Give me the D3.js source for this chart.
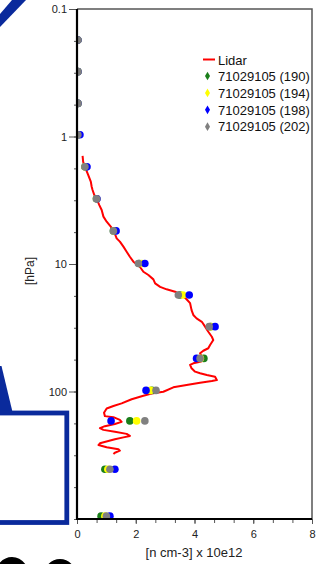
<!DOCTYPE html>
<html><head><meta charset="utf-8">
<script src="https://cdn.jsdelivr.net/npm/d3@7"></script>
<style>html,body{margin:0;padding:0;background:#fff;}svg{display:block;font-family:"Liberation Sans",Arial,sans-serif;}</style>
</head><body>
<svg id="c" width="327" height="564"></svg>
<script>
// ---- data ----
const levels = [0.175, 0.31, 0.55, 0.97, 1.73, 3.08, 5.5, 9.9, 17.5, 31, 55, 98, 170, 407, 950];
const s190 = [0.03,0.03,0.03,0.03,0.27,0.66,1.24,2.12,3.5,4.55,4.32,2.55,1.8,0.95,0.82];
const s194 = [0.03,0.03,0.03,0.03,0.28,0.67,1.26,2.2,3.6,4.55,4.2,2.5,2.03,1.05,0.95];
const s198 = [0.03,0.03,0.03,0.1,0.34,0.68,1.33,2.31,3.82,4.7,4.07,2.35,1.16,1.29,1.12];
const s202 = [0.03,0.03,0.03,0.03,0.27,0.67,1.24,2.09,3.45,4.5,4.19,2.69,2.31,1.12,1.0];
const seriesNames = ["71029105 (190)","71029105 (194)","71029105 (198)","71029105 (202)"];
const seriesColors = ["#1a7f1a","#ffff00","#0000ff","#808080"];
const lidarP = [1.42,1.58,1.73,2.00,2.26,2.48,2.63,2.88,3.09,3.45,3.77,4.25,4.66,5.09,5.58,6.29,6.68,7.31,8.01,8.77,9.59,10.5,11.5,12.2,13.2,14.2,15.1,15.8,16.5,17.5,18.9,20.3,23.0,25.1,26.7,28.4,31.0,34.0,37.2,39.5,43.2,45.8,47.9,50.2,53.3,56.6,58.4,60.1,61.9,65.8,69.9,72.0,74.2,76.6,81.3,82.8,85.3,88.9,92.7,100.4,103,108,115,124,130,136,147,156,159,167,173,180,187,194,200,207,215,223,229,237,255,263,274,284,291,302,309];
const lidarV = [0.19,0.21,0.27,0.38,0.47,0.50,0.53,0.59,0.67,0.76,0.84,0.90,1.01,1.15,1.26,1.35,1.46,1.58,1.69,1.80,1.92,2.14,2.26,2.43,2.60,2.66,2.83,3.05,3.34,3.56,3.73,3.85,3.90,3.96,4.07,4.25,4.36,4.47,4.59,4.64,4.53,4.47,4.30,4.19,4.25,4.36,4.19,3.96,3.85,3.90,4.02,4.19,4.42,4.70,4.76,4.59,4.19,3.73,3.28,2.94,2.60,2.26,1.86,1.52,1.24,1.01,0.92,0.95,1.24,1.46,1.52,1.29,0.95,0.78,0.90,1.29,1.69,1.80,1.58,1.29,0.78,0.73,1.01,1.41,1.46,1.29,1.24];
const yTickLabels = ["0.1","1","10","100"];
const xTickLabels = ["0","2","4","6","8"];

// ---- layout ----
const svg = d3.select("#c");
const L = 77, R = 312, T = 9, B = 519;
const x = d3.scaleLinear().domain([0, 8]).range([L, R]);
const y = d3.scaleLog().domain([0.1, 1000]).range([T, B]);

// decorative slide fragments
const blue = "#0a2a9c";
svg.append("polygon").attr("points","12,0 26,0 0,27 0,14").attr("fill",blue);
svg.append("polygon").attr("points","0,366 1.5,366 12.5,412 0,412").attr("fill",blue);
svg.append("rect").attr("x",-10).attr("y",413).attr("width",76.8).attr("height",109.5)
  .attr("fill","none").attr("stroke",blue).attr("stroke-width",4.8);
svg.append("ellipse").attr("cx",12).attr("cy",582).attr("rx",15).attr("ry",21).attr("fill","none").attr("stroke","#000").attr("stroke-width",8);
svg.append("ellipse").attr("cx",60).attr("cy",584).attr("rx",15).attr("ry",21).attr("fill","none").attr("stroke","#000").attr("stroke-width",8);

// clip
svg.append("clipPath").attr("id","pc").append("rect").attr("x",L).attr("y",T).attr("width",R-L).attr("height",B-T);

// frame top/right
svg.append("path").attr("d",`M${L},${T}H${R}V${B}`).attr("fill","none").attr("stroke","#555").attr("stroke-width",1.5);

// lidar line
const lidar = lidarP.map((p,i)=>({p, v: lidarV[i]}));
svg.append("path").datum(lidar)
  .attr("clip-path","url(#pc)")
  .attr("fill","none").attr("stroke","#ff0000").attr("stroke-width",2)
  .attr("stroke-linejoin","round")
  .attr("d", d3.line().x(d=>x(d.v)).y(d=>y(d.p)));

// points
const allSeries = [s190, s194, s198, s202];
const gp = svg.append("g").attr("clip-path","url(#pc)");
allSeries.forEach((s, si) => {
  gp.selectAll(null).data(s.map((v,i)=>({v, p: levels[i]}))).enter()
    .append("circle").attr("cx", d=>x(d.v)).attr("cy", d=>y(d.p)).attr("r", 3.8)
    .attr("fill", seriesColors[si]);
});

// y axis
const yMinor = d3.range(0, 16.01).map(i => Math.pow(10, -1 + i/4));
const yMajor = yTickLabels.map(Number);
const ya = d3.axisLeft(y).tickValues(yMinor).tickSize(3).tickFormat("");
svg.append("g").attr("transform",`translate(${L},0)`).call(ya)
  .call(g=>g.select(".domain").remove())
  .call(g=>g.selectAll("line").attr("stroke","#555"));
const yb = d3.axisLeft(y).tickValues(yMajor).tickSize(8).tickPadding(2)
  .tickFormat((d,i)=>yTickLabels[i]);
svg.append("g").attr("transform",`translate(${L},0)`).call(yb)
  .call(g=>g.select(".domain").remove())
  .call(g=>g.selectAll("line").attr("stroke","#555"))
  .call(g=>g.selectAll("text").attr("font-size",11).attr("fill","#222").attr("font-family","'Liberation Sans',Arial,sans-serif"));

// x axis
const xMinor = d3.range(0, 12.01).map(i => i*2/3);
const xa = d3.axisBottom(x).tickValues(xMinor).tickSize(4).tickFormat("");
svg.append("g").attr("transform",`translate(0,${B})`).call(xa)
  .call(g=>g.select(".domain").remove())
  .call(g=>g.selectAll("line").attr("stroke","#555"));
const xb = d3.axisBottom(x).tickValues(xTickLabels.map(Number)).tickSize(5).tickPadding(6)
  .tickFormat((d,i)=>xTickLabels[i]);
svg.append("g").attr("transform",`translate(0,${B})`).call(xb)
  .call(g=>g.select(".domain").remove())
  .call(g=>g.selectAll("line").attr("stroke","#555"))
  .call(g=>g.selectAll("text").attr("font-size",11).attr("fill","#222").attr("font-family","'Liberation Sans',Arial,sans-serif"));

// thick axes lines
svg.append("line").attr("x1",L).attr("x2",L).attr("y1",T).attr("y2",B+1).attr("stroke","#000").attr("stroke-width",2.2);
svg.append("line").attr("x1",L-1).attr("x2",R).attr("y1",B).attr("y2",B).attr("stroke","#000").attr("stroke-width",2.2);

// axis titles
svg.append("text").attr("x",194).attr("y",557).attr("text-anchor","middle")
  .attr("font-size",13).attr("fill","#222").text("[n cm-3] x 10e12");
svg.append("text").attr("transform","translate(34,271) rotate(-90)").attr("text-anchor","middle")
  .attr("font-size",12).attr("fill","#222").text("[hPa]");

// legend
const lg = svg.append("g");
lg.append("line").attr("x1",203).attr("x2",215).attr("y1",59.5).attr("y2",59.5).attr("stroke","#ff0000").attr("stroke-width",2);
lg.append("text").attr("x",218).attr("y",64.5).attr("font-size",13).attr("fill","#111").text("Lidar");
seriesNames.forEach((n,i)=>{
  const yy = 76 + i*16.9;
  lg.append("path").attr("transform",`translate(207.5,${yy})`)
    .attr("d", d3.symbol(d3.symbolDiamond, 22)()).attr("fill", seriesColors[i]);
  lg.append("text").attr("x",218).attr("y",yy+4.7).attr("font-size",13).attr("fill","#111").text(n);
});
</script>
</body></html>
